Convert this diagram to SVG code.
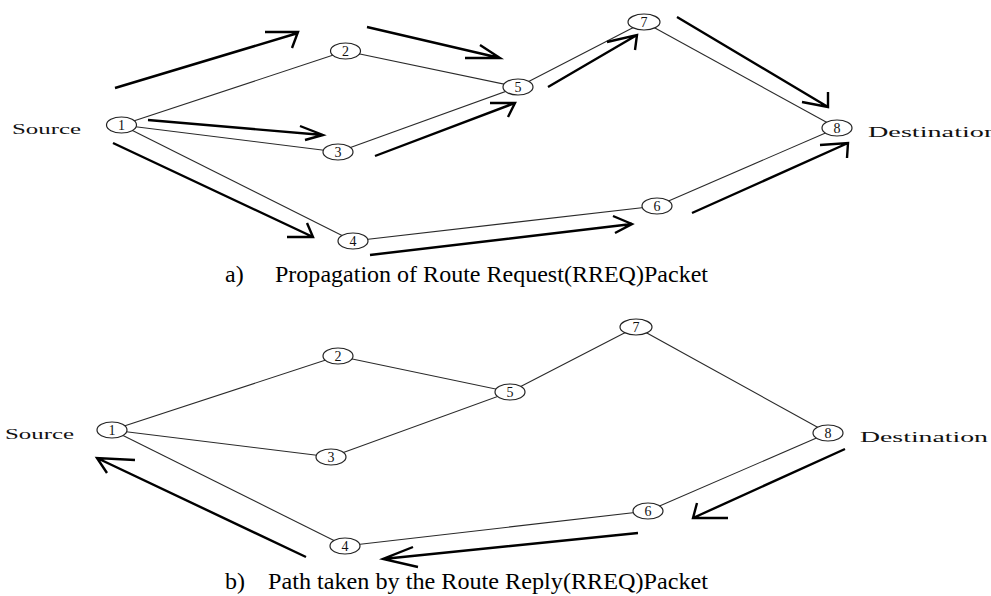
<svg xmlns="http://www.w3.org/2000/svg" width="991" height="596" viewBox="0 0 991 596">
<style>
.edge{stroke:#2a2a2a;stroke-width:1.1;fill:none}
.arrow{stroke:#000;stroke-width:2.4;fill:none;stroke-linecap:butt;stroke-linejoin:miter}
.node ellipse{fill:#fff;stroke:#222;stroke-width:1.2}
.num{font-family:"Liberation Serif",serif;font-size:14px;fill:#111;text-anchor:middle}
.lbl{font-family:"Liberation Serif",serif;font-size:14px;fill:#111}
.cap{font-family:"Liberation Serif",serif;font-size:24px;fill:#000}
</style>
<rect width="991" height="596" fill="#fff"/>
<g id="connectors">
  <g id="edges-a">
    <line class="edge" x1="121.5" y1="125" x2="345.5" y2="51"/>
    <line class="edge" x1="121.5" y1="125" x2="338" y2="152"/>
    <line class="edge" x1="121.5" y1="125" x2="353" y2="241"/>
    <line class="edge" x1="345.5" y1="51" x2="518" y2="87"/>
    <line class="edge" x1="338" y1="152" x2="518" y2="87"/>
    <line class="edge" x1="518" y1="87" x2="644" y2="22"/>
    <line class="edge" x1="644" y1="22" x2="837" y2="128"/>
    <line class="edge" x1="353" y1="241" x2="657" y2="206"/>
    <line class="edge" x1="657" y1="206" x2="837" y2="128"/>
  </g>
  <g id="edges-b">
    <line class="edge" x1="112" y1="430" x2="338" y2="356"/>
    <line class="edge" x1="112" y1="430" x2="331" y2="457"/>
    <line class="edge" x1="112" y1="430" x2="345" y2="546"/>
    <line class="edge" x1="338" y1="356" x2="510" y2="392"/>
    <line class="edge" x1="331" y1="457" x2="510" y2="392"/>
    <line class="edge" x1="510" y1="392" x2="636" y2="327"/>
    <line class="edge" x1="636" y1="327" x2="828" y2="433"/>
    <line class="edge" x1="345" y1="546" x2="648" y2="511"/>
    <line class="edge" x1="648" y1="511" x2="828" y2="433"/>
  </g>
  <g id="arrows-a">
    <path class="arrow" d="M115 88 L298 33 M265 32 L298 32 L292 48"/>
    <path class="arrow" d="M367 27 L500 58 M480 45 L500 58 L465 58"/>
    <path class="arrow" d="M148 120 L323 135 M300 126 L323 135 L305 140"/>
    <path class="arrow" d="M375 156 L515 103 M490 103 L515 103 L508 117"/>
    <path class="arrow" d="M113 143 L313 237 M307 223 L313 237 L287 237"/>
    <path class="arrow" d="M370 255 L632 224 M613 216 L632 224 L615 233"/>
    <path class="arrow" d="M548 87 L637 35 M607 42 L637 35 L635 50"/>
    <path class="arrow" d="M677 17 L828 107 M828 92 L828 107 L802 102"/>
    <path class="arrow" d="M692 213 L848 143 M820 145 L848 143 L847 158"/>
  </g>
  <g id="arrows-b">
    <path class="arrow" d="M845 449 L693 518 M697 503 L693 518 L728 518"/>
    <path class="arrow" d="M638 533 L383 559 M413 547 L383 559 L418 567"/>
    <path class="arrow" d="M306 557 L97 458 M135 460 L97 458 L107 473"/>
  </g>
</g>
<g id="a-n1" class="node"><ellipse cx="121.5" cy="125" rx="15" ry="8"/><text class="num" x="121.5" y="130">1</text></g>
<g id="a-n2" class="node"><ellipse cx="345.5" cy="51" rx="15" ry="8"/><text class="num" x="345.5" y="56">2</text></g>
<g id="a-n3" class="node"><ellipse cx="338" cy="152" rx="15" ry="8"/><text class="num" x="338" y="157">3</text></g>
<g id="a-n4" class="node"><ellipse cx="353" cy="241" rx="15" ry="8"/><text class="num" x="353" y="246">4</text></g>
<g id="a-n5" class="node"><ellipse cx="518" cy="87" rx="15" ry="8"/><text class="num" x="518" y="92">5</text></g>
<g id="a-n6" class="node"><ellipse cx="657" cy="206" rx="15" ry="8"/><text class="num" x="657" y="211">6</text></g>
<g id="a-n7" class="node"><ellipse cx="644" cy="22" rx="16" ry="8"/><text class="num" x="644" y="27">7</text></g>
<g id="a-n8" class="node"><ellipse cx="837" cy="128" rx="15" ry="8"/><text class="num" x="837" y="133">8</text></g>
<text class="lbl" x="12" y="134" textLength="69" lengthAdjust="spacingAndGlyphs">Source</text>
<text class="lbl" x="868" y="137" textLength="130" lengthAdjust="spacingAndGlyphs">Destination</text>

<g id="b-n1" class="node"><ellipse cx="112" cy="430" rx="15" ry="8"/><text class="num" x="112" y="435">1</text></g>
<g id="b-n2" class="node"><ellipse cx="338" cy="356" rx="15" ry="8"/><text class="num" x="338" y="361">2</text></g>
<g id="b-n3" class="node"><ellipse cx="331" cy="457" rx="15" ry="8"/><text class="num" x="331" y="462">3</text></g>
<g id="b-n4" class="node"><ellipse cx="345" cy="546" rx="15" ry="8"/><text class="num" x="345" y="551">4</text></g>
<g id="b-n5" class="node"><ellipse cx="510" cy="392" rx="15" ry="8"/><text class="num" x="510" y="397">5</text></g>
<g id="b-n6" class="node"><ellipse cx="648" cy="511" rx="15" ry="8"/><text class="num" x="648" y="516">6</text></g>
<g id="b-n7" class="node"><ellipse cx="636" cy="327" rx="16" ry="8"/><text class="num" x="636" y="332">7</text></g>
<g id="b-n8" class="node"><ellipse cx="828" cy="433" rx="15" ry="8"/><text class="num" x="828" y="438">8</text></g>
<text class="lbl" x="5" y="439" textLength="69" lengthAdjust="spacingAndGlyphs">Source</text>
<text class="lbl" x="860" y="442" textLength="128" lengthAdjust="spacingAndGlyphs">Destination</text>

<text class="cap" x="225" y="282">a)</text>
<text class="cap" x="275" y="282" textLength="433" lengthAdjust="spacingAndGlyphs">Propagation of Route Request(RREQ)Packet</text>
<text class="cap" x="225" y="589">b)</text>
<text class="cap" x="268" y="589" textLength="440" lengthAdjust="spacingAndGlyphs">Path taken by the Route Reply(RREQ)Packet</text>
</svg>
